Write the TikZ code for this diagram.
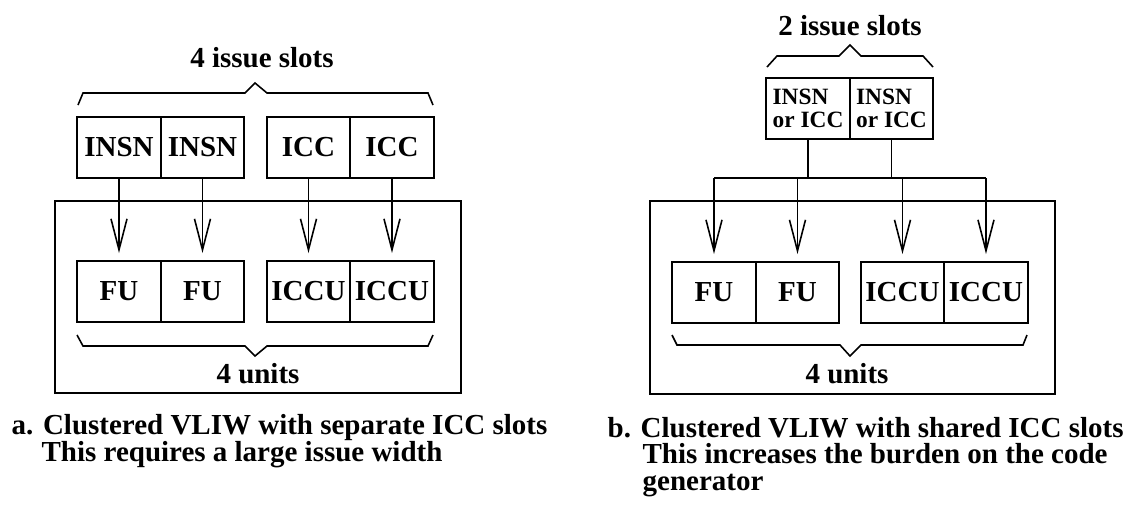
\documentclass[tikz,border=0pt]{standalone}
\usepackage{fontspec}
\setmainfont{Liberation Serif}
\usetikzlibrary{arrows.meta,positioning}

\begin{document}
\begin{tikzpicture}[x=0.02cm,y=-0.02cm,line width=0.9pt,
 >={Straight Barb[length=0.62cm,width=0.32cm]},
 font=\bfseries\fontsize{16.5}{15}\selectfont]
 \tikzstyle{box}=[draw,rectangle,minimum width=1.67cm,minimum height=1.22cm,inner sep=0pt,outer sep=0pt]
 \tikzstyle{shared}=[box,align=left,font=\bfseries\fontsize{13.3}{13}\selectfont]
 \tikzstyle{feed}=[->,shorten >=0.16cm]
 \useasboundingbox (0,0) rectangle (1136,512);

 % a. separate ICC slots
 \node[box] (sA1) at (119,147.5) {INSN};
 \node[box] (sA2) [right=0pt of sA1] {INSN};
 \node[box] (sA3) at (308.5,147.5) {ICC};
 \node[box] (sA4) [right=0pt of sA3] {ICC};
 \node[box] (uA1) at (119,291.5) {FU};
 \node[box] (uA2) [right=0pt of uA1] {FU};
 \node[box] (uA3) at (308.5,291.5) {ICCU};
 \node[box] (uA4) [right=0pt of uA3] {ICCU};

 \draw (55,201) rectangle (461,393);
 \foreach \i in {1,...,4}
 \draw[feed] (sA\i) -- (uA\i);

 \draw (78,105) -- (83,93) -- (245,93) -- (255,83) -- (267,93) -- (428,93) -- (433,105);
 \draw (77,335) -- (83,346) -- (245,346) -- (255,356) -- (267,346) -- (428,346) -- (433,335);
 \node[anchor=base] (nA) at (262,67) {4 issue slots};
 \node[anchor=base] (kA) at (258,383) {4 units};
 \node[anchor=base west,align=left] (capA) at (5,461)
 {a. Clustered VLIW with separate ICC slots\\\hspace*{0.6cm}This requires a large issue width};

 % b. shared ICC slots
 \node[shared] (sB1) at (808,108.5) {INSN\\or ICC};
 \node[shared] (sB2) [right=0pt of sB1] {INSN\\or ICC};
 \node[box] (uB1) at (714,292.5) {FU};
 \node[box] (uB2) [right=0pt of uB1] {FU};
 \node[box] (uB3) at (902.5,292.5) {ICCU};
 \node[box] (uB4) [right=0pt of uB3] {ICCU};

 \draw (650,201) rectangle (1055,394);
 \coordinate (bus) at (850,178);
 \draw (sB1) -- (sB1 |- bus);
 \draw (sB2) -- (sB2 |- bus);
 \draw (uB1 |- bus) -- (uB4 |- bus);
 \foreach \i in {1,...,4}
 \draw[feed] (uB\i |- bus) -- (uB\i);

 \draw (767,67) -- (777,56) -- (839,56) -- (850,45) -- (861,56) -- (923,56) -- (933,67);
 \draw (672,335) -- (677,345) -- (840,345) -- (850,356) -- (861,345) -- (1023,345) -- (1027,335);
 \node[anchor=base] (nB) at (850,35) {2 issue slots};
 \node[anchor=base] (kB) at (847,383) {4 units};
 \node[anchor=base west,align=left] (capB) at (601,490)
 {b. Clustered VLIW with shared ICC slots\\\hspace*{0.7cm}This increases the burden on the code\\\hspace*{0.7cm}generator};
\end{tikzpicture}
\end{document}
